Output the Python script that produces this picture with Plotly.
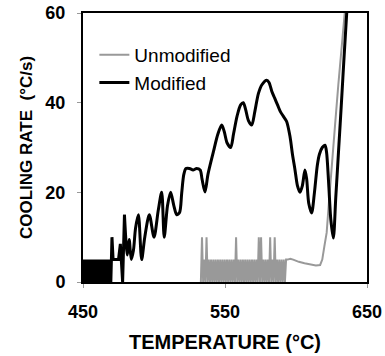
import plotly.graph_objects as go

# ---------------- data ----------------
# Modified (black): noisy start (incl. first spikes), then oscillating curve
mod_noise_t = [450.0, 450.7, 451.4, 452.1, 452.8, 453.5, 454.2, 454.9, 455.6, 456.3,
               457.0, 457.7, 458.4, 459.1, 459.8, 460.5, 461.2, 461.9, 462.6, 463.3,
               464.0, 464.7, 465.4, 466.1, 466.8, 467.5, 468.2, 468.9, 469.6, 470.4,
               471.2, 475.0, 476.3, 477.9, 479.2]
mod_noise_y = [0, 5, 0, 5, 0, 5, 0, 5, 0, 5,
               0, 5, 0, 5, 0, 5, 0, 5, 0, 5,
               0, 5, 0, 5, 0, 5, 0, 5, 0, 10,
               5, 5, 8.5, 0, 15]
mod_curve_t = [479.2, 481.2, 482.5, 484.0, 485.5,
               487.0, 489.0, 491.3, 493.5, 496.7, 500.0, 503.0, 505.4, 507.2, 509.5,
               511.7, 514.0, 516.0, 518.0, 519.5, 521.0, 522.5, 525.0, 527.5, 530.0,
               532.5, 533.8, 535.9, 538.0, 541.8, 545.0, 547.7, 549.5,
               551.5, 554.0, 556.0, 558.5, 561.0, 562.9, 564.5, 566.5, 568.8, 571.0,
               573.5, 576.0, 579.4, 581.0, 583.0, 585.0, 587.0, 589.0, 591.0,
               593.4, 595.8, 597.5, 599.3, 601.0, 602.8, 604.5, 606.3, 607.5, 609.0,
               611.0, 613.0, 615.0, 616.5, 618.5, 620.4, 621.5, 623.0, 624.5, 626.3,
               628.0, 630.0, 632.0, 634.0, 636.0]
mod_curve_y = [15, 6, 9.5, 5, 7,
               12, 15, 5, 10, 15, 10, 16, 20, 10, 17,
               20, 17, 15, 15.5, 19.8, 24, 25.3, 25.3, 25, 25.3,
               25, 23, 20.1, 24, 29, 33, 35, 33.5,
               31, 30, 33, 37, 39.5, 40, 38.5, 36, 35, 38,
               42, 44, 45, 44.5, 42.5, 41, 39.5, 38, 37,
               35.8, 32.4, 28.5, 25, 21.5, 20, 21.5, 25, 23, 17.5,
               15.4, 20, 26, 28.5, 30, 30.5, 29, 22, 14, 9.8,
               18.8, 29.4, 40, 51, 61.5]

# Unmodified (grey): noisy band, then smooth rise
unmod_noise_t = [533.0, 533.8, 534.6, 535.4, 536.2, 537.0, 537.8, 538.6, 539.4, 540.2,
                 541.0, 541.8, 542.6, 543.4, 544.2, 545.0, 545.8, 546.6, 547.4, 548.2,
                 549.0, 549.8, 550.6, 551.4, 552.2, 553.0, 553.8, 554.6, 555.4, 556.2,
                 557.0, 557.8, 558.6, 559.4, 560.2, 561.0, 561.8, 562.6, 563.4, 564.2,
                 565.0, 565.8, 566.6, 567.4, 568.2, 569.0, 569.8, 570.6, 571.4, 572.2,
                 573.0, 573.8, 574.6, 575.4, 576.2, 577.0, 577.8, 578.6, 579.4, 580.2,
                 581.0, 581.8, 582.6, 583.4, 584.2, 585.0, 585.8, 586.6, 587.4, 588.2,
                 589.0, 589.8, 590.6, 591.4, 592.2, 593.0]
unmod_noise_y = [0, 10, 0, 5, 0, 10, 0, 5, 0, 5,
                 0, 5, 0, 5, 0, 5, 0, 5, 0, 5,
                 0, 5, 0, 5, 0, 5, 0, 5, 0, 5,
                 0, 10, 0, 5, 0, 5, 0, 5, 0, 5,
                 0, 5, 0, 5, 0, 5, 0, 5, 0, 5,
                 0, 10, 0, 10, 0, 5, 0, 5, 0, 5,
                 0, 10, 0, 5, 0, 10, 0, 5, 0, 5,
                 0, 5, 0, 5, 0, 5]
unmod_curve_t = [594.0, 596.0, 598.0, 602.0, 606.0, 610.0, 614.0, 617.0, 618.5, 620.0,
                 621.6, 623.0, 625.0, 627.5, 629.8, 634.0, 636.0]
unmod_curve_y = [5, 5.2, 5, 4.5, 4.2, 4, 3.7, 3.8, 5, 8,
                 11, 17, 25.7, 35, 44, 60, 66]

x_ticks = [450, 550, 650]
y_ticks = [0, 20, 40, 60]

FONT = "Liberation Sans, Arial, sans-serif"

fig = go.Figure()
fig.add_trace(go.Scatter(
    x=unmod_noise_t + unmod_curve_t, y=unmod_noise_y + unmod_curve_y,
    mode="lines", name="Unmodified",
    line=dict(color="#999999", width=2)))
fig.add_trace(go.Scatter(
    x=mod_noise_t, y=mod_noise_y, mode="lines", showlegend=False,
    legendgroup="mod", line=dict(color="#000000", width=3)))
fig.add_trace(go.Scatter(
    x=mod_curve_t, y=mod_curve_y, mode="lines", name="Modified",
    legendgroup="mod",
    line=dict(color="#000000", width=3, shape="spline", smoothing=0.8)))

fig.update_layout(
    width=385, height=356,
    margin=dict(l=83, r=18, t=13, b=74, autoexpand=False),
    paper_bgcolor="white", plot_bgcolor="white",
    font=dict(family=FONT, color="black"),
    legend=dict(x=0.04, y=0.915, xanchor="left", yanchor="top",
                bgcolor="rgba(0,0,0,0)", font=dict(size=19, family=FONT),
                tracegroupgap=0, itemwidth=30),
    xaxis=dict(range=[450, 650], tickvals=x_ticks, ticks="outside", ticklen=4,
               tickwidth=1, tickcolor="#999999", showgrid=False, zeroline=False,
               showline=True, linecolor="black", linewidth=2, mirror=True,
               tickfont=dict(size=18, family=FONT, weight="bold"),
               ticklabelstandoff=8,
               title=dict(text="TEMPERATURE (°C)", standoff=14,
                          font=dict(size=20, family=FONT, weight="bold"))),
    yaxis=dict(range=[0, 60], tickvals=y_ticks, ticks="outside", ticklen=4,
               tickwidth=1, tickcolor="#999999", showgrid=False,
               zeroline=False, showline=True, linecolor="black", linewidth=2,
               mirror=True,
               tickfont=dict(size=18, family=FONT, weight="bold"),
               ticklabelstandoff=8,
               title=dict(text="COOLING RATE\u00a0 (°C/s)", standoff=8,
                          font=dict(size=17, family=FONT, weight="bold"))),
)

fig.write_html("out.html")
